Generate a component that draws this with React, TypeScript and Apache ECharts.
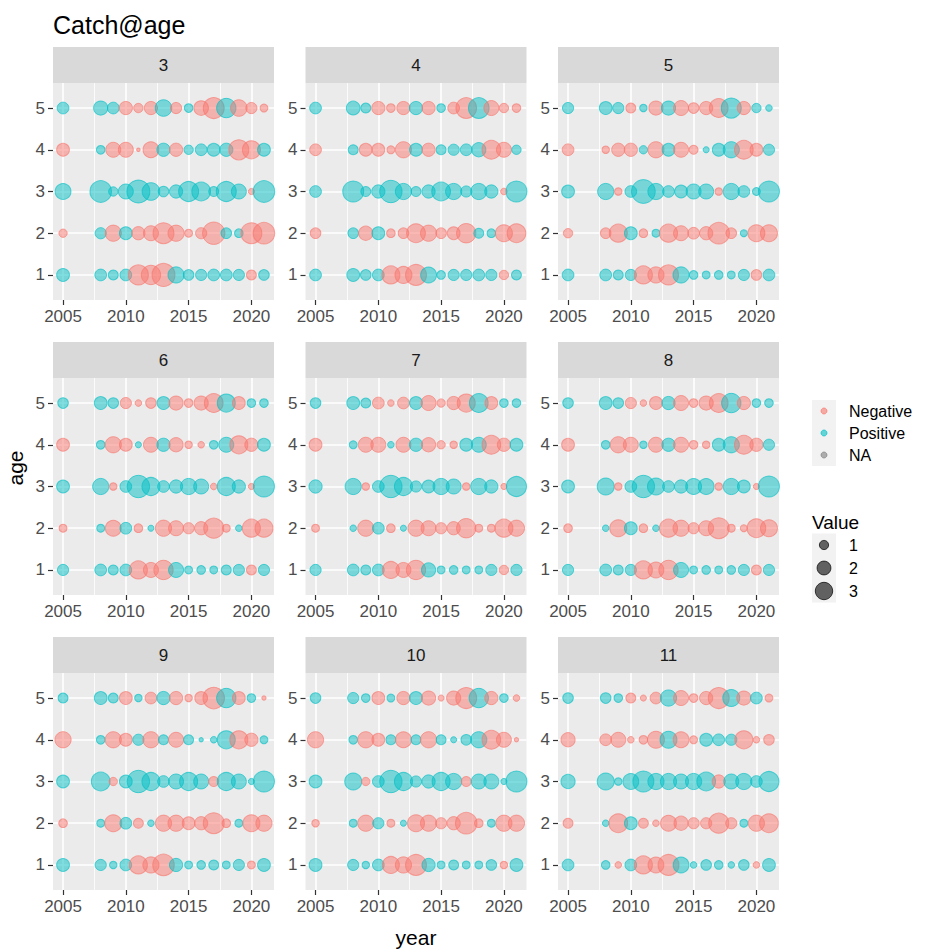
import React, { useEffect, useRef } from "react";
import * as echarts from "echarts";

// ---------- data ----------
const years = [2005, 2008, 2009, 2010, 2011, 2012, 2013, 2014, 2015, 2016, 2017, 2018, 2019, 2020, 2021];
const ages = [1, 2, 3, 4, 5];
const facetLabels = ["3", "4", "5", "6", "7", "8", "9", "10", "11"];
const xTicks = [2005, 2010, 2015, 2020];
const xMinorLines = [2007.5, 2012.5, 2017.5];
const yTicks = [1, 2, 3, 4, 5];
const colourKeys = ["Negative", "Positive", "NA"];
const sizeBreaks = [1, 2, 3];

// rows = age 1..5, columns = years
const facet3 = [
  [1.3, 1.1, 0.8, 1.1, -3.2, -3.0, -4.2, 2.1, 0.9, 1.0, 1.1, 1.1, 1.0, -0.8, 0.9],
  [-0.55, 1.0, -2.1, 1.3, -1.4, -1.8, -3.5, -2.1, -0.5, -1.0, -4.0, 0.9, 0.6, -3.5, -3.7],
  [2.0, 3.7, 0.7, 1.8, 4.2, 2.5, 0.9, 1.4, 3.2, 2.8, 0.8, 3.2, 1.8, -0.3, 3.7],
  [-1.3, 0.6, -1.8, -1.8, -0.1, -2.0, 1.4, -1.4, 0.7, 1.1, 1.3, 1.4, -3.2, -2.6, 1.3],
  [1.1, 1.6, 1.1, -1.4, -0.7, -1.4, 2.2, -1.0, 0.6, -1.7, -3.5, 3.0, -2.2, -1.0, -0.5],
];
const facet4 = [
  [1.1, 1.3, 0.9, 1.1, -2.6, -2.3, -3.5, 2.0, 0.6, 1.0, 1.0, 1.1, 1.0, -0.7, 0.8],
  [-0.9, 0.9, -1.6, 1.3, -0.6, -0.9, -2.8, -2.1, -0.9, -1.3, -3.0, 0.8, 0.6, -2.3, -2.8],
  [1.1, 3.5, 0.8, 1.4, 4.0, 2.1, 0.8, 1.4, 2.8, 2.1, 1.0, 2.1, 1.4, -0.35, 3.5],
  [-1.1, 0.8, -1.3, -1.3, -0.5, -2.1, 1.3, -1.4, 0.8, 1.0, 1.1, 1.6, -2.8, -1.8, 0.7],
  [1.1, 1.5, 0.8, -1.4, -0.6, -1.4, 1.4, -1.4, 0.6, -1.1, -3.4, 3.4, -1.8, -0.7, -0.6],
];
const facet5 = [
  [1.1, 1.1, 0.8, 1.0, -2.6, -2.1, -3.2, 2.1, 0.6, 0.5, 0.6, 0.5, 1.0, -0.9, 1.1],
  [-0.7, -0.9, -2.6, 1.3, -0.6, 0.5, -2.6, -1.8, -1.1, -1.4, -3.7, -0.9, 0.4, -2.3, -2.3],
  [1.3, 2.1, -0.45, 1.1, 4.5, 2.1, 1.1, 1.3, 1.8, 1.8, -0.45, 2.1, 1.1, 0.5, 3.5],
  [-1.1, -0.45, -1.4, -1.4, 0.55, -2.1, 1.3, -1.8, -0.65, 0.3, 1.3, 2.1, -2.8, -1.3, 1.0],
  [1.0, 1.3, 1.0, -0.8, 0.45, -1.6, 1.6, -1.8, -0.9, -1.4, -2.8, 3.2, -1.4, 0.7, 0.35],
];
const facet6 = [
  [1.0, 1.1, 0.8, 1.1, -2.6, -1.8, -3.0, 1.8, 0.5, 0.6, 0.5, 0.8, 1.0, -0.8, 1.0],
  [-0.5, 0.5, -2.0, 1.1, -0.6, 0.3, -2.1, -1.8, -1.0, -1.4, -3.2, -0.5, 0.35, -2.6, -2.6],
  [1.3, 2.1, -0.45, 1.1, 4.0, 2.6, 1.1, 1.4, 2.1, 1.8, -0.35, 2.6, 1.4, -0.3, 3.5],
  [-1.3, 0.6, -2.1, -1.3, 0.3, -1.8, 1.4, -1.6, -0.45, -0.35, 0.6, 1.8, -2.6, -1.4, 1.3],
  [0.9, 1.3, 0.9, -1.0, -0.35, -0.9, 1.3, -1.6, -0.6, -1.6, -2.8, 2.6, -1.3, 0.6, 0.6],
];
const facet7 = [
  [1.0, 1.1, 0.8, 1.1, -2.3, -1.8, -3.0, 1.6, 0.5, 0.6, 0.5, 0.5, 1.0, -0.7, 1.0],
  [-0.5, 0.35, -2.1, 1.1, -0.6, 0.3, -2.1, -1.8, -1.0, -1.4, -3.0, -0.5, -0.5, -2.6, -2.1],
  [1.4, 2.1, -0.45, 1.1, 4.0, 2.6, 1.0, 1.3, 2.1, 1.8, -0.45, 2.1, 1.4, -0.3, 3.2],
  [-1.3, 0.5, -1.8, -1.8, 0.35, -1.8, 1.4, -1.6, -0.55, -0.45, 1.3, 1.8, -2.8, -1.4, 1.3],
  [0.9, 1.3, 0.8, -1.1, -0.35, -1.1, 1.3, -1.8, -0.55, -1.4, -2.6, 2.8, -1.3, 0.6, 0.6],
];
const facet8 = [
  [1.0, 1.1, 0.8, 1.0, -2.6, -2.0, -3.0, 1.8, 0.5, 0.6, 0.5, 0.6, 1.0, -0.8, 1.0],
  [-0.6, 0.35, -2.3, 1.3, -0.6, 0.35, -2.6, -2.1, -1.0, -1.8, -3.5, -0.5, -0.4, -2.8, -2.3],
  [1.3, 2.3, -0.45, 1.1, 4.0, 2.3, 1.1, 1.4, 2.0, 2.0, -0.45, 2.1, 1.3, -0.3, 3.5],
  [-1.3, 0.6, -2.1, -1.8, 0.45, -1.8, 1.4, -1.8, -0.6, -0.45, 1.3, 2.1, -2.8, -1.4, 1.0],
  [0.9, 1.3, 0.9, -1.0, -0.35, -1.3, 1.4, -1.8, -0.6, -1.6, -2.8, 3.0, -1.4, 0.6, 0.6],
];
const facet9 = [
  [1.3, 1.0, 0.45, 1.1, -2.6, -2.1, -3.7, 1.4, 0.5, 0.6, 0.8, 0.5, 1.0, -0.5, 1.3],
  [-0.6, 0.5, -2.3, 1.1, -0.8, 0.35, -2.1, -2.1, -1.3, -1.4, -3.5, -0.6, 0.5, -2.3, -2.1],
  [1.3, 2.8, -0.55, 1.3, 4.0, 2.6, 1.1, 1.8, 2.6, 1.8, -0.8, 2.6, 1.8, 0.3, 3.5],
  [-2.1, 0.6, -2.1, -1.3, 1.0, -2.1, 0.8, -1.8, 0.8, 0.15, 0.35, 2.6, -2.6, -1.4, 0.5],
  [0.8, 1.3, 0.8, -1.3, 0.45, -1.1, 1.4, -1.4, -0.45, -1.3, -3.7, 3.0, -1.3, 0.6, -0.15],
];
const facet10 = [
  [1.3, 1.0, 0.45, 1.1, -2.3, -2.1, -3.5, 1.4, 0.5, 0.8, 0.5, 0.5, 0.9, -0.45, 1.3],
  [-0.45, 0.5, -2.1, 1.0, -0.5, 0.3, -2.3, -2.1, -1.0, -1.4, -3.7, -0.6, 0.5, -2.1, -2.1],
  [1.3, 2.3, -0.55, 1.1, 4.0, 2.6, 1.0, 1.4, 2.6, 2.1, -0.8, 1.8, 1.8, 0.3, 3.5],
  [-2.1, 0.6, -2.1, -1.3, 0.8, -2.0, 0.8, -2.1, 0.8, 0.3, 0.9, 2.1, -2.8, -1.8, -0.15],
  [0.9, 1.0, 0.6, -1.3, 0.5, -1.4, 1.3, -1.6, -0.3, -1.6, -3.5, 3.0, -1.4, 0.6, -0.35],
];
const facet11 = [
  [1.1, 0.6, -0.35, 1.1, -2.6, -2.0, -3.5, 2.0, 0.35, 0.9, 0.6, 0.35, 0.9, -0.35, 1.3],
  [-0.8, 0.35, -2.8, 1.3, -0.8, -0.35, -2.0, -1.6, -1.0, -1.0, -3.2, -1.0, 0.5, -2.1, -2.8],
  [1.6, 2.3, 0.45, 2.0, 3.5, 2.1, 2.1, 1.8, 2.1, 2.8, -1.4, 1.8, 2.1, 1.1, 3.2],
  [-1.6, -1.1, -1.8, -0.35, -0.6, -2.3, 2.3, -2.0, -0.5, 1.3, 1.1, 1.0, -2.6, -0.35, -0.9],
  [0.9, 0.9, 0.6, -0.8, -0.3, -1.1, 2.1, -1.8, -0.6, -1.4, -3.5, 2.3, -1.6, 1.1, -0.5],
];
const facets = [facet3, facet4, facet5, facet6, facet7, facet8, facet9, facet10, facet11];

// ---------- style / layout ----------
const FONT = "'Liberation Sans', Arial, Helvetica, sans-serif";
const NEG = "248,118,109";
const POS = "0,191,196";
const NAC = "127,127,127";
const colLeft = [53, 305.5, 558];
const rowTop = [47, 342, 637];
const PW = 221;
const STRIP = 36;
const PH = 217;
const sizeOf = (v: number) => 11.2 * Math.sqrt(Math.abs(v));
const plainNum = (v: number) => String(v);

function buildOption() {
  const grid: any[] = [];
  const xAxis: any[] = [];
  const yAxis: any[] = [];
  const series: any[] = [];
  const graphic: any[] = [];

  facets.forEach((facet, i) => {
    const r = Math.floor(i / 3);
    const c = i % 3;
    grid.push({
      left: colLeft[c],
      top: rowTop[r] + STRIP,
      width: PW,
      height: PH,
      show: true,
      backgroundColor: "#EBEBEB",
      borderWidth: 0,
    });
    xAxis.push({
      gridIndex: i,
      type: "value",
      min: 2004.2,
      max: 2021.8,
      position: "bottom",
      axisLine: { show: false },
      axisTick: { show: true, length: 5, customValues: xTicks, lineStyle: { color: "#333333", width: 1.2 } },
      axisLabel: { customValues: xTicks, formatter: plainNum, fontSize: 17, color: "#4D4D4D", margin: 8, fontFamily: FONT },
      splitLine: { show: true, lineStyle: { color: "#FFFFFF", width: 1.6 } },
    });
    xAxis.push({
      gridIndex: i,
      type: "value",
      min: 2004.2,
      max: 2021.8,
      position: "top",
      axisLine: { show: false },
      axisTick: { show: false, customValues: xMinorLines },
      axisLabel: { show: false, customValues: xMinorLines },
      splitLine: { show: true, lineStyle: { color: "#FFFFFF", width: 0.8 } },
    });
    yAxis.push({
      gridIndex: i,
      type: "value",
      min: 0.4,
      max: 5.6,
      axisLine: { show: false },
      axisTick: { show: true, length: 5, customValues: yTicks, lineStyle: { color: "#333333", width: 1.2 } },
      axisLabel: { customValues: yTicks, formatter: plainNum, fontSize: 17, color: "#4D4D4D", margin: 8, fontFamily: FONT },
      splitLine: { show: true, lineStyle: { color: "#FFFFFF", width: 1.6 } },
    });

    const data: any[] = [];
    ages.forEach((age, a) => {
      years.forEach((yr, j) => {
        const v = facet[a][j];
        const col = v < 0 ? NEG : POS;
        data.push({
          value: [yr, age, v],
          itemStyle: { color: `rgba(${col},0.62)`, borderColor: `rgba(${col},0.8)`, borderWidth: 1 },
        });
      });
    });
    series.push({
      type: "scatter",
      xAxisIndex: 2 * i,
      yAxisIndex: i,
      data,
      symbol: "circle",
      symbolSize: (val: number[]) => sizeOf(val[2]),
      silent: true,
    });

    graphic.push({
      type: "rect",
      shape: { x: colLeft[c], y: rowTop[r], width: PW, height: STRIP },
      style: { fill: "#D9D9D9" },
      silent: true,
    });
    graphic.push({
      type: "text",
      x: colLeft[c] + PW / 2,
      y: rowTop[r] + STRIP / 2,
      style: {
        text: facetLabels[i],
        fill: "#1A1A1A",
        font: `17px ${FONT}`,
        align: "center",
        verticalAlign: "middle",
        textAlign: "center",
        textVerticalAlign: "middle",
      },
      silent: true,
    });
  });

  // axis titles
  graphic.push({
    type: "text",
    x: 15,
    y: 468,
    rotation: Math.PI / 2,
    style: { text: "age", fill: "#000", font: `21px ${FONT}`, align: "center", verticalAlign: "middle", textAlign: "center", textVerticalAlign: "middle" },
  });
  graphic.push({
    type: "text",
    x: 416,
    y: 937,
    style: { text: "year", fill: "#000", font: `21px ${FONT}`, align: "center", verticalAlign: "middle", textAlign: "center", textVerticalAlign: "middle" },
  });

  // colour legend
  const keyX = 812;
  const keyW = 24;
  const keyH = 22;
  const textX = 849;
  const colourY = [411, 433, 455];
  const colourRGB = [NEG, POS, NAC];
  graphic.push({
    type: "rect",
    shape: { x: keyX, y: colourY[0] - keyH / 2, width: keyW, height: keyH * 3 },
    style: { fill: "#F2F2F2" },
  });
  colourKeys.forEach((k, idx) => {
    graphic.push({
      type: "circle",
      shape: { cx: keyX + keyW / 2, cy: colourY[idx], r: 3 },
      style: { fill: `rgba(${colourRGB[idx]},0.6)`, stroke: `rgba(${colourRGB[idx]},0.7)`, lineWidth: 1 },
    });
    graphic.push({
      type: "text",
      x: textX,
      y: colourY[idx],
      style: { text: k, fill: "#000", font: `16px ${FONT}`, align: "left", verticalAlign: "middle", textAlign: "left", textVerticalAlign: "middle" },
    });
  });

  // size legend
  graphic.push({
    type: "text",
    x: keyX,
    y: 522,
    style: { text: "Value", fill: "#000", font: `19px ${FONT}`, align: "left", verticalAlign: "middle", textAlign: "left", textVerticalAlign: "middle" },
  });
  const sizeY = [545, 568, 591];
  graphic.push({
    type: "rect",
    shape: { x: keyX, y: sizeY[0] - 11.5, width: keyW, height: 69 },
    style: { fill: "#F2F2F2" },
  });
  sizeBreaks.forEach((b, idx) => {
    graphic.push({
      type: "circle",
      shape: { cx: keyX + keyW / 2, cy: sizeY[idx], r: Math.min(sizeOf(b) - 2, 19) / 2 },
      style: { fill: "rgba(0,0,0,0.6)", stroke: "rgba(0,0,0,0.7)", lineWidth: 1 },
    });
    graphic.push({
      type: "text",
      x: textX,
      y: sizeY[idx],
      style: { text: String(b), fill: "#000", font: `16px ${FONT}`, align: "left", verticalAlign: "middle", textAlign: "left", textVerticalAlign: "middle" },
    });
  });

  return {
    animation: false,
    backgroundColor: "#FFFFFF",
    textStyle: { fontFamily: FONT },
    title: {
      text: "Catch@age",
      left: 53,
      top: 12,
      padding: 0,
      textStyle: { fontSize: 25, fontWeight: "normal", color: "#000000", fontFamily: FONT },
    },
    grid,
    xAxis,
    yAxis,
    series,
    graphic,
  };
}

export default function App() {
  const ref = useRef<HTMLDivElement>(null);
  useEffect(() => {
    document.body.style.margin = "0";
    if (!ref.current) return;
    const chart = echarts.init(ref.current, undefined, { renderer: "svg" });
    chart.setOption(buildOption() as any);
    return () => chart.dispose();
  }, []);
  return <div ref={ref} style={{ width: 938, height: 952 }} />;
}
